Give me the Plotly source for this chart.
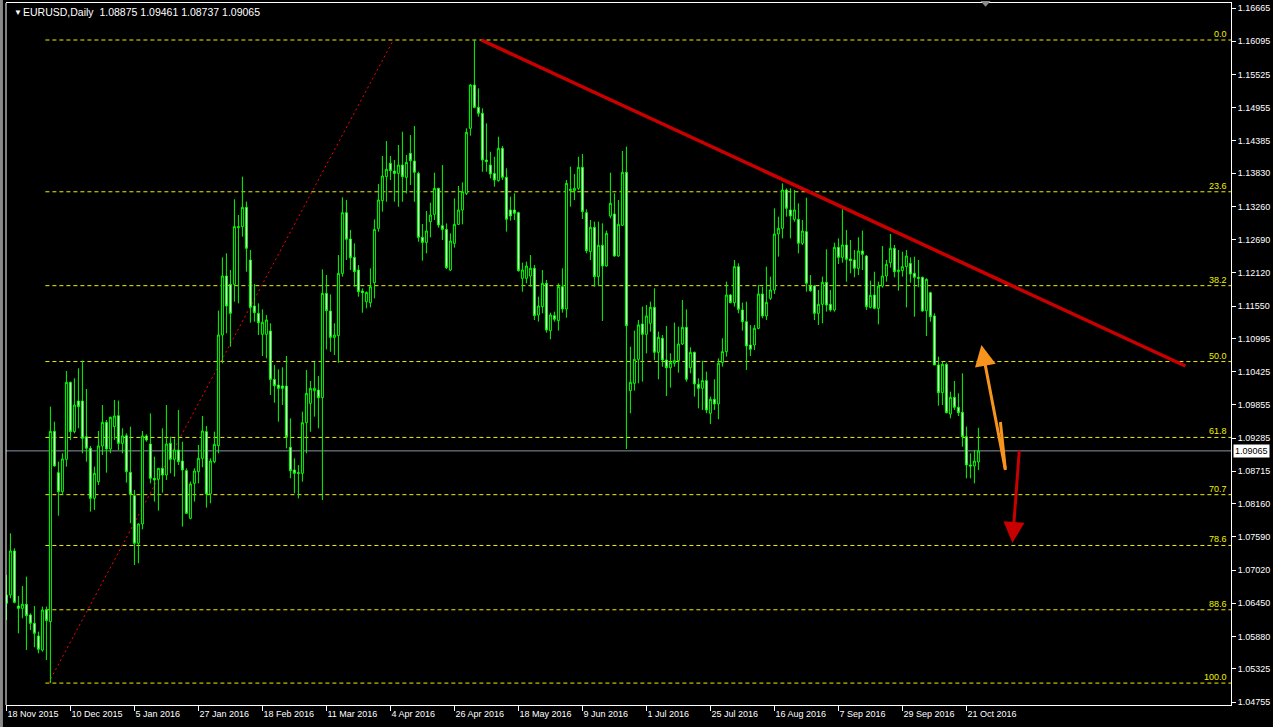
import plotly.graph_objects as go

# ---------------- data (EURUSD daily) ----------------
open_ = [
    1.06592, 1.06592, 1.07347, 1.06403, 1.06363, 1.06432, 1.06249, 1.06106, 1.05888, 1.05648,
    1.06335, 1.06134, 1.09400, 1.08691, 1.08365, 1.08920, 1.10241, 1.09395, 1.09921, 1.09921,
    1.09309, 1.09109, 1.08251, 1.08537, 1.09149, 1.09555, 1.09097, 1.09481, 1.09669, 1.09194,
    1.09326, 1.08697, 1.08297, 1.07479, 1.07811, 1.09321, 1.09183, 1.08594, 1.08577, 1.08766,
    1.08651, 1.09194, 1.08920, 1.09080, 1.08891, 1.08726, 1.07908, 1.08508, 1.08708, 1.08937,
    1.09395, 1.08325, 1.08880, 1.09154, 1.11054, 1.12066, 1.11923, 1.11923, 1.12913, 1.12913,
    1.13244, 1.12340, 1.11551, 1.11425, 1.11065, 1.11065, 1.11122, 1.10292, 1.10195, 1.10178,
    1.10178, 1.09126, 1.08737, 1.08691, 1.08680, 1.09549, 1.09881, 1.10098, 1.10109, 1.09978,
    1.11768, 1.11465, 1.11013, 1.11042, 1.12111, 1.13152, 1.12701, 1.12386, 1.12169, 1.11808,
    1.11625, 1.11608, 1.11951, 1.12884, 1.13358, 1.13770, 1.13999, 1.13867, 1.13827, 1.13970,
    1.13759, 1.14171, 1.14039, 1.13827, 1.12729, 1.12643, 1.12998, 1.13124, 1.13570, 1.12929,
    1.12866, 1.12169, 1.12626, 1.12952, 1.13198, 1.13484, 1.14600, 1.15343, 1.14960, 1.14857,
    1.14056, 1.13970, 1.13827, 1.13702, 1.14257, 1.13759, 1.13199, 1.13199, 1.13153, 1.12026,
    1.12026, 1.12066, 1.12198, 1.11397, 1.11540, 1.11940, 1.11128, 1.11386, 1.11300, 1.11883,
    1.11500, 1.13531, 1.13531, 1.13571, 1.13931, 1.13153, 1.12484, 1.12901, 1.12055, 1.12593,
    1.12238, 1.13096, 1.13130, 1.12409, 1.12936, 1.13845, 1.10099, 1.10224, 1.10636, 1.11243,
    1.11065, 1.11254, 1.11529, 1.10756, 1.10997, 1.10625, 1.10493, 1.10568, 1.10613, 1.10899,
    1.11185, 1.10493, 1.10756, 1.10207, 1.10139, 1.10270, 1.09710, 1.09950, 1.09870, 1.10579,
    1.10768, 1.11740, 1.11609, 1.12226, 1.11483, 1.11282, 1.10882, 1.10882, 1.11168, 1.11757,
    1.11380, 1.11683, 1.11826, 1.12787, 1.12884, 1.13542, 1.13199, 1.13038, 1.13038, 1.12627,
    1.12827, 1.11894, 1.11894, 1.11425, 1.11580, 1.11957, 1.11580, 1.11483, 1.12558, 1.12386,
    1.12598, 1.12358, 1.12341, 1.12198, 1.12495, 1.12409, 1.11528, 1.11740, 1.11511, 1.11894,
    1.12066, 1.12295, 1.12541, 1.12140, 1.12158, 1.12226, 1.12283, 1.12112, 1.12043, 1.12043,
    1.11471, 1.11780, 1.11380, 1.10539, 1.10064, 1.10550, 1.09698, 1.09984, 1.09812, 1.09727,
    1.09309, 1.08823, 1.08806, 1.08875,
]
high = [
    1.06935, 1.07650, 1.07393, 1.06575, 1.06746, 1.06907, 1.06277, 1.06403, 1.05963, 1.06392,
    1.06392, 1.09824, 1.09566, 1.08880, 1.09023, 1.10436, 1.10253, 1.10310, 1.10482, 1.10613,
    1.10127, 1.09149, 1.08794, 1.09406, 1.09852, 1.09595, 1.09652, 1.09938, 1.09927, 1.09452,
    1.09366, 1.09481, 1.08394, 1.07822, 1.09406, 1.09349, 1.09709, 1.08966, 1.08766, 1.09452,
    1.09852, 1.09309, 1.09280, 1.09767, 1.09223, 1.08766, 1.08537, 1.08766, 1.09166, 1.09664,
    1.09492, 1.08937, 1.09395, 1.11471, 1.12386, 1.12455, 1.12169, 1.13382, 1.13113, 1.13771,
    1.13342, 1.12512, 1.11928, 1.11597, 1.11494, 1.11397, 1.11254, 1.10538, 1.10464, 1.10498,
    1.10693, 1.09623, 1.08937, 1.08822, 1.09738, 1.10453, 1.10264, 1.10596, 1.10349, 1.12180,
    1.12083, 1.11751, 1.11254, 1.12426, 1.13416, 1.13370, 1.12855, 1.12626, 1.12254, 1.11854,
    1.11800, 1.12197, 1.13038, 1.13644, 1.14125, 1.14382, 1.14125, 1.14056, 1.14314, 1.14542,
    1.14142, 1.14485, 1.14640, 1.13856, 1.12958, 1.13181, 1.13324, 1.13839, 1.13581, 1.13970,
    1.12969, 1.12798, 1.13398, 1.13610, 1.13673, 1.14600, 1.15360, 1.16116, 1.15286, 1.14943,
    1.14686, 1.14199, 1.14113, 1.14457, 1.14297, 1.13914, 1.13428, 1.13485, 1.13170, 1.12295,
    1.12312, 1.12426, 1.12255, 1.11712, 1.12169, 1.11998, 1.11437, 1.11454, 1.11940, 1.12198,
    1.13714, 1.13942, 1.13817, 1.14114, 1.14160, 1.13210, 1.13027, 1.12999, 1.12999, 1.12970,
    1.12844, 1.13839, 1.13485, 1.13370, 1.14211, 1.14286, 1.10853, 1.11128, 1.11311, 1.11540,
    1.11569, 1.11626, 1.11855, 1.11111, 1.11054, 1.11208, 1.10739, 1.11266, 1.11197, 1.11654,
    1.11494, 1.10842, 1.10768, 1.10310, 1.10613, 1.10425, 1.09996, 1.10293, 1.10653, 1.10997,
    1.11969, 1.11757, 1.12341, 1.12284, 1.11609, 1.11626, 1.11225, 1.11225, 1.11911, 1.11883,
    1.12226, 1.12055, 1.13227, 1.13084, 1.13656, 1.13570, 1.13570, 1.13542, 1.13313, 1.13027,
    1.13410, 1.12083, 1.11911, 1.11826, 1.12055, 1.12524, 1.11826, 1.12638, 1.12712, 1.13210,
    1.12855, 1.12684, 1.12512, 1.12730, 1.12844, 1.12426, 1.11986, 1.12140, 1.11969, 1.12581,
    1.12341, 1.12787, 1.12598, 1.12512, 1.12484, 1.12512, 1.12386, 1.12398, 1.12341, 1.12055,
    1.12026, 1.11797, 1.11425, 1.10682, 1.10596, 1.10579, 1.10081, 1.10264, 1.10053, 1.10396,
    1.09481, 1.09023, 1.09080, 1.09461,
]
low = [
    1.06163, 1.06535, 1.06449, 1.05934, 1.06192, 1.05648, 1.05991, 1.05694, 1.05591, 1.05620,
    1.05477, 1.05080, 1.08794, 1.07953, 1.08308, 1.08794, 1.09252, 1.09366, 1.09452, 1.09023,
    1.08880, 1.08022, 1.08051, 1.08480, 1.08994, 1.08691, 1.09023, 1.09252, 1.09080, 1.09023,
    1.08520, 1.07822, 1.07107, 1.07136, 1.07719, 1.09223, 1.08508, 1.08194, 1.08039, 1.08348,
    1.08566, 1.08680, 1.08623, 1.08823, 1.07765, 1.07993, 1.07890, 1.08194, 1.08508, 1.08783,
    1.08091, 1.08165, 1.08852, 1.09023, 1.10567, 1.11082, 1.10853, 1.11626, 1.11597, 1.12741,
    1.12140, 1.11265, 1.11282, 1.11053, 1.10693, 1.10653, 1.10024, 1.09892, 1.09566, 1.09852,
    1.09108, 1.08594, 1.08336, 1.08250, 1.08536, 1.09023, 1.09394, 1.09652, 1.09452, 1.08222,
    1.10807, 1.10767, 1.10710, 1.10578, 1.12054, 1.12340, 1.12169, 1.11883, 1.11711, 1.11436,
    1.11511, 1.11528, 1.11682, 1.12827, 1.13170, 1.13341, 1.13713, 1.13341, 1.13255, 1.13341,
    1.13484, 1.13627, 1.13341, 1.12655, 1.12329, 1.12455, 1.12729, 1.13027, 1.12895, 1.12683,
    1.12186, 1.12151, 1.12552, 1.12941, 1.12952, 1.13456, 1.14474, 1.14943, 1.14800, 1.13856,
    1.13856, 1.13742, 1.13599, 1.13685, 1.13714, 1.12827, 1.13016, 1.13027, 1.12141, 1.11797,
    1.11940, 1.11883, 1.11311, 1.11283, 1.11426, 1.11094, 1.10980, 1.11283, 1.11128, 1.11437,
    1.11351, 1.13256, 1.13370, 1.13542, 1.13044, 1.12455, 1.12341, 1.11883, 1.11895, 1.11294,
    1.12226, 1.13056, 1.12398, 1.12398, 1.12924, 1.09097, 1.09710, 1.10099, 1.10224, 1.10253,
    1.10739, 1.11111, 1.10625, 1.10293, 1.10510, 1.10007, 1.10150, 1.10510, 1.10407, 1.10882,
    1.10253, 1.10396, 1.09996, 1.09795, 1.09767, 1.09710, 1.09527, 1.09767, 1.09607, 1.10510,
    1.10682, 1.11597, 1.11540, 1.11426, 1.11128, 1.10453, 1.10693, 1.10796, 1.11151, 1.11340,
    1.11311, 1.11654, 1.11757, 1.12398, 1.12712, 1.13084, 1.12712, 1.12998, 1.12455, 1.12598,
    1.11797, 1.11797, 1.11311, 1.11225, 1.11254, 1.11454, 1.11454, 1.11454, 1.12272, 1.12295,
    1.11969, 1.12112, 1.12043, 1.12083, 1.12169, 1.11483, 1.11511, 1.11494, 1.11237, 1.11866,
    1.11969, 1.12209, 1.12043, 1.11814, 1.12055, 1.11528, 1.11952, 1.11368, 1.11872, 1.11454,
    1.11036, 1.11282, 1.10539, 1.09841, 1.09852, 1.09709, 1.09624, 1.09767, 1.09664, 1.09137,
    1.08594, 1.08594, 1.08508, 1.08737,
]
close = [
    1.06449, 1.07347, 1.06466, 1.06363, 1.06432, 1.06237, 1.06106, 1.05934, 1.05660, 1.06335,
    1.06152, 1.09400, 1.08806, 1.08365, 1.08926, 1.10241, 1.09395, 1.09852, 1.09824, 1.09280,
    1.09109, 1.08251, 1.08680, 1.09149, 1.09555, 1.09097, 1.09641, 1.09664, 1.09194, 1.09321,
    1.08708, 1.08325, 1.07479, 1.07811, 1.09321, 1.09252, 1.08594, 1.08566, 1.08766, 1.08651,
    1.09183, 1.08920, 1.09080, 1.08880, 1.08737, 1.07993, 1.08497, 1.08720, 1.08937, 1.09406,
    1.08325, 1.08891, 1.09177, 1.11054, 1.12066, 1.11551, 1.11425, 1.12913, 1.12901, 1.13244,
    1.12541, 1.11528, 1.11436, 1.11265, 1.11271, 1.11311, 1.10292, 1.10184, 1.10138, 1.10138,
    1.09309, 1.08725, 1.08680, 1.08680, 1.09549, 1.10052, 1.10138, 1.10138, 1.09978, 1.11768,
    1.11471, 1.11013, 1.11053, 1.12111, 1.13152, 1.12695, 1.12380, 1.12140, 1.11797, 1.11780,
    1.11785, 1.11883, 1.12866, 1.13370, 1.13782, 1.13896, 1.13873, 1.13827, 1.13970, 1.13770,
    1.14016, 1.14045, 1.13845, 1.12729, 1.12643, 1.12838, 1.13112, 1.13570, 1.12941, 1.12866,
    1.12209, 1.12666, 1.12952, 1.13198, 1.13513, 1.14531, 1.15343, 1.14960, 1.14857, 1.14056,
    1.14028, 1.13816, 1.13713, 1.14257, 1.13759, 1.13039, 1.13096, 1.13142, 1.12158, 1.12169,
    1.12238, 1.12198, 1.11386, 1.11551, 1.11940, 1.11140, 1.11397, 1.11323, 1.11883, 1.11500,
    1.13656, 1.13553, 1.13571, 1.13931, 1.13170, 1.12501, 1.12901, 1.12055, 1.12593, 1.12238,
    1.12798, 1.13313, 1.12409, 1.12953, 1.13845, 1.11214, 1.10242, 1.10636, 1.11226, 1.11065,
    1.11380, 1.11529, 1.10756, 1.11014, 1.10625, 1.10493, 1.10579, 1.10613, 1.10899, 1.11185,
    1.10293, 1.10756, 1.10213, 1.10139, 1.10270, 1.09767, 1.09950, 1.09870, 1.10568, 1.10768,
    1.11740, 1.11609, 1.12226, 1.11494, 1.11282, 1.10865, 1.10808, 1.11168, 1.11757, 1.11380,
    1.11614, 1.11826, 1.12787, 1.12884, 1.13542, 1.13227, 1.13096, 1.13199, 1.12627, 1.12838,
    1.11940, 1.11814, 1.11425, 1.11580, 1.11957, 1.11568, 1.11483, 1.12558, 1.12386, 1.12598,
    1.12352, 1.12329, 1.12198, 1.12495, 1.12438, 1.11540, 1.11734, 1.11511, 1.11894, 1.12066,
    1.12266, 1.12541, 1.12140, 1.12169, 1.12226, 1.12409, 1.12100, 1.12043, 1.12026, 1.11465,
    1.12009, 1.11368, 1.10539, 1.10064, 1.10550, 1.09721, 1.09984, 1.09812, 1.09721, 1.09309,
    1.08823, 1.08806, 1.08891, 1.09065,
]

# date labels shown on the time axis (one every 16 bars)
date_labels = [
    "18 Nov 2015", "10 Dec 2015", "5 Jan 2016", "27 Jan 2016", "18 Feb 2016",
    "11 Mar 2016", "4 Apr 2016", "26 Apr 2016", "18 May 2016", "9 Jun 2016",
    "1 Jul 2016", "25 Jul 2016", "16 Aug 2016", "7 Sep 2016", "29 Sep 2016",
    "21 Oct 2016",
]
date_label_bars = [0, 16, 32, 48, 64, 80, 96, 112, 128, 144, 160, 176, 192, 208, 224, 240]

# price scale labels
price_ticks = [
    1.16665, 1.16095, 1.15525, 1.14955, 1.14385, 1.13830, 1.13260, 1.12690,
    1.12120, 1.11550, 1.10995, 1.10425, 1.09855, 1.09285, 1.08715, 1.08160,
    1.07590, 1.07020, 1.06450, 1.05880, 1.05325, 1.04755,
]

# Fibonacci retracement (anchored low -> high)
fib_high = 1.16116
fib_low = 1.05080
fib_levels = [0.0, 23.6, 38.2, 50.0, 61.8, 70.7, 78.6, 88.6, 100.0]
fib_start_bar = 9.75
fib_diag_bars = [10.5, 96.75]
fib_diag_prices = [fib_low, fib_high]

# resistance trend line
trend_bars = [118.75, 294.75]
trend_prices = [1.16116, 1.10521]

# hand-drawn arrows (bar, price)
orange_arrow = {"tail": (249.75, 1.08737), "head": (243.75, 1.10882)}
orange_stroke = {"a": (248.5, 1.09560), "b": (249.75, 1.08737)}
red_arrow = {"tail": (253.25, 1.09097), "head": (251.5, 1.07484)}

symbol = "EURUSD,Daily"
last_ohlc = [1.08875, 1.09461, 1.08737, 1.09065]
current_price = last_ohlc[3]

x_range = [-0.1, 306.15]
y_range = [1.04704, 1.16751]

# ---------------- figure ----------------
bars = list(range(len(close)))
FONT = "Liberation Sans, Arial, sans-serif"
LIME = "#00FF00"
FIB_YELLOW = "#F0F000"

fig = go.Figure()
fig.add_trace(go.Candlestick(
    x=bars, open=open_, high=high, low=low, close=close,
    increasing=dict(line=dict(color=LIME, width=1), fillcolor="#000000"),
    decreasing=dict(line=dict(color=LIME, width=1), fillcolor="#FFFFFF"),
    whiskerwidth=0, hoverinfo="skip", showlegend=False,
))

shapes = []
annotations = []

# Fibonacci level lines + labels
for lv in fib_levels:
    p = fib_high - (fib_high - fib_low) * lv / 100.0
    shapes.append(dict(type="line", xref="x", yref="y", x0=fib_start_bar, x1=x_range[1],
                       y0=p, y1=p, line=dict(color=FIB_YELLOW, width=1, dash="4px,3px"), layer="below"))
    annotations.append(dict(xref="paper", yref="y", x=0.9985, y=p, text=f"{lv:.1f}",
                            showarrow=False, xanchor="right", yanchor="bottom", yshift=-1,
                            font=dict(family=FONT, size=9, color=FIB_YELLOW)))

# Fibonacci diagonal (red dotted)
shapes.append(dict(type="line", xref="x", yref="y", x0=fib_diag_bars[0], y0=fib_diag_prices[0],
                   x1=fib_diag_bars[1], y1=fib_diag_prices[1],
                   line=dict(color="#FF0000", width=1, dash="2px,3px"), layer="below"))

# current price line
shapes.append(dict(type="line", xref="paper", yref="y", x0=0, x1=1, y0=current_price, y1=current_price,
                   line=dict(color="#8796A8", width=1), layer="below"))

# trend line
shapes.append(dict(type="line", xref="x", yref="y", x0=trend_bars[0], y0=trend_prices[0],
                   x1=trend_bars[1], y1=trend_prices[1], line=dict(color="#C80000", width=3.5)))

# orange extra stroke
shapes.append(dict(type="line", xref="x", yref="y", x0=orange_stroke["a"][0], y0=orange_stroke["a"][1],
                   x1=orange_stroke["b"][0], y1=orange_stroke["b"][1],
                   line=dict(color="#F7941D", width=3)))

# left border line
shapes.append(dict(type="line", xref="paper", yref="paper", x0=0, x1=0, y0=0, y1=1,
                   line=dict(color="#FFFFFF", width=1)))
# window edge (grey strip at far left)
shapes.append(dict(type="rect", xref="paper", yref="paper", x0=-0.0049, x1=-0.0025,
                   y0=-0.035, y1=1.006, fillcolor="#8A8A8A", line=dict(width=0)))
# chart-shift marker (small grey triangle at top)
shapes.append(dict(type="path", xref="paper", yref="paper",
                   path="M 0.7955 1.003 L 0.8037 1.003 L 0.7996 0.9945 Z",
                   fillcolor="#8C8C8C", line=dict(width=0)))

# arrows
annotations.append(dict(xref="x", yref="y", axref="x", ayref="y",
                        x=orange_arrow["head"][0], y=orange_arrow["head"][1],
                        ax=orange_arrow["tail"][0], ay=orange_arrow["tail"][1],
                        showarrow=True, arrowhead=2, arrowsize=1.4, arrowwidth=3,
                        arrowcolor="#F7941D", text=""))
annotations.append(dict(xref="x", yref="y", axref="x", ayref="y",
                        x=red_arrow["head"][0], y=red_arrow["head"][1],
                        ax=red_arrow["tail"][0], ay=red_arrow["tail"][1],
                        showarrow=True, arrowhead=2, arrowsize=1.4, arrowwidth=3,
                        arrowcolor="#C80000", text=""))

# current price box on the price scale
annotations.append(dict(xref="paper", yref="y", x=1, y=current_price, xshift=2,
                        text=f"{current_price:.5f}", showarrow=False, xanchor="left", yanchor="middle",
                        bgcolor="#FFFFFF", borderpad=1,
                        font=dict(family=FONT, size=9, color="#000000")))

# header
annotations.append(dict(xref="paper", yref="paper", x=0, y=1, xshift=6, yshift=-3,
                        text="▼", showarrow=False, xanchor="left", yanchor="top",
                        font=dict(family=FONT, size=8, color="#FFFFFF")))
annotations.append(dict(xref="paper", yref="paper", x=0, y=1, xshift=15, yshift=-1,
                        text=f"{symbol}  " + " ".join(f"{v:.5f}" for v in last_ohlc),
                        showarrow=False, xanchor="left", yanchor="top",
                        font=dict(family=FONT, size=10.5, color="#FFFFFF")))

fig.update_layout(
    width=1273, height=727,
    margin=dict(l=6, r=42, t=3, b=22),
    paper_bgcolor="#000000", plot_bgcolor="#000000",
    font=dict(family=FONT, size=9, color="#FFFFFF"),
    shapes=shapes, annotations=annotations,
    showlegend=False,
    xaxis=dict(range=x_range, rangeslider=dict(visible=False), showgrid=False, zeroline=False,
               tickmode="array", tickvals=date_label_bars, ticktext=date_labels,
               ticks="outside", ticklen=5, tickcolor="#FFFFFF", tickwidth=1,
               ticklabelposition="outside right",
               showline=True, linecolor="#FFFFFF", linewidth=1, mirror=True,
               tickfont=dict(family=FONT, size=9, color="#FFFFFF"), fixedrange=True),
    yaxis=dict(range=y_range, side="right", showgrid=False, zeroline=False,
               tickmode="array", tickvals=price_ticks, tickformat=".5f",
               ticks="outside", ticklen=4, tickcolor="#FFFFFF", tickwidth=1,
               showline=True, linecolor="#FFFFFF", linewidth=1, mirror=False,
               tickfont=dict(family=FONT, size=9, color="#FFFFFF"), fixedrange=True),
)

# remove the browser's default page margin so the figure fills the window exactly
fig.write_html("out.html", config={"displayModeBar": False},
               post_script="document.body.style.margin='0';document.body.style.background='#000';")
